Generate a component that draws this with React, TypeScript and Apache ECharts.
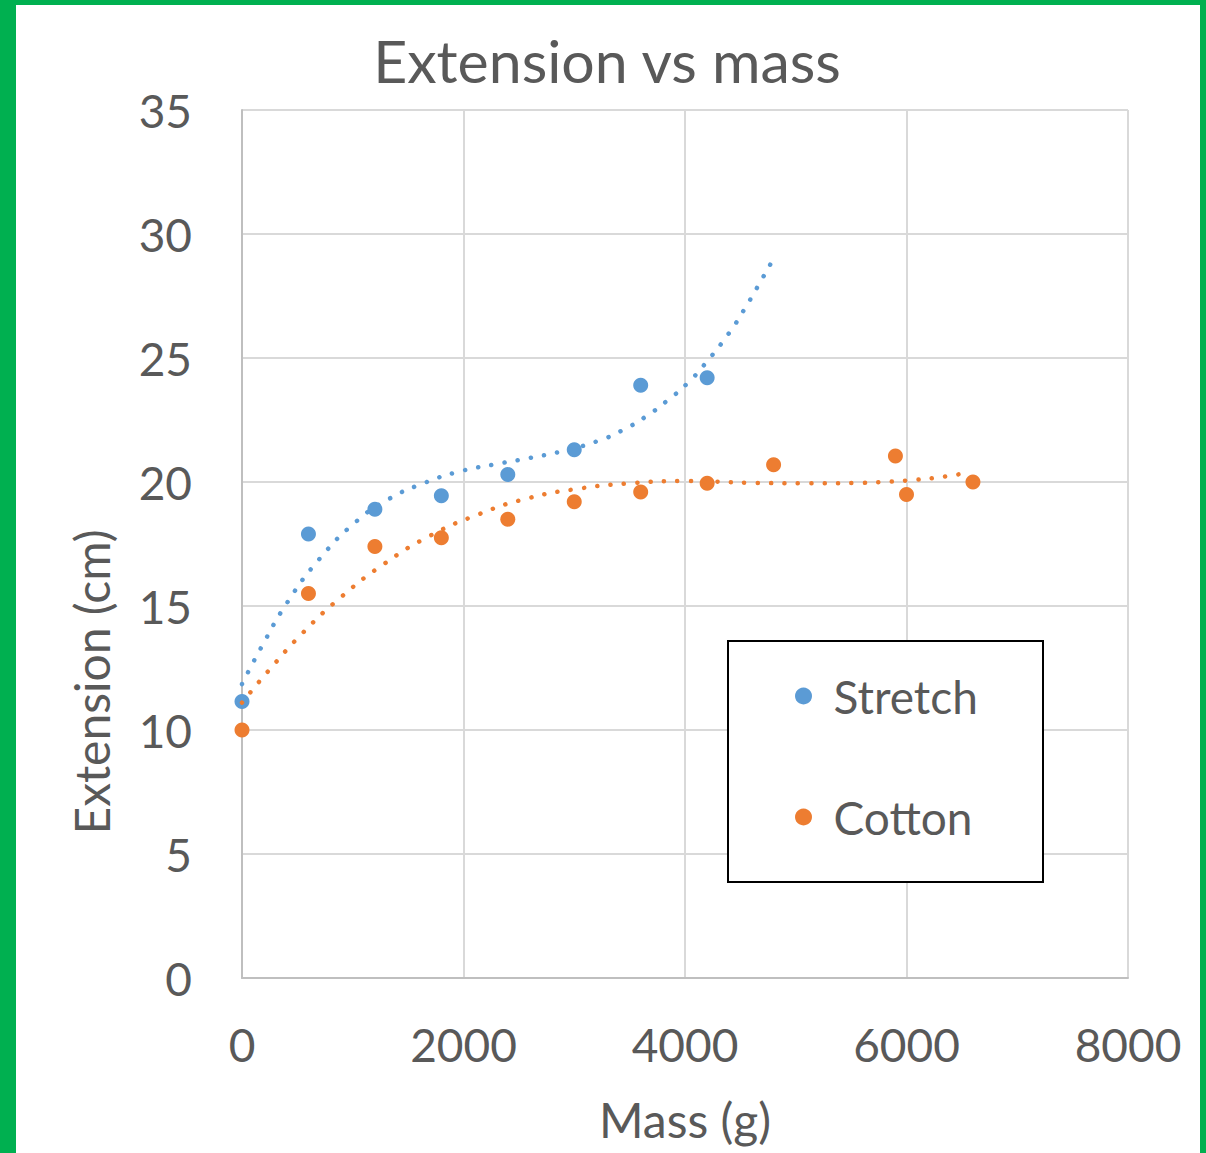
import React, { useEffect, useRef } from "react";
import * as echarts from "echarts";

const titleText = "Extension vs mass";
const xAxisTitle = "Mass (g)";
const yAxisTitle = "Extension (cm)";
const seriesNames = ["Stretch", "Cotton"];

const massStretch = [0, 600, 1200, 1800, 2400, 3000, 3600, 4200];
const extStretch = [11.15, 17.9, 18.9, 19.45, 20.3, 21.3, 23.9, 24.2];

const massCotton = [0, 600, 1200, 1800, 2400, 3000, 3600, 4200, 4800, 5900, 6000, 6600];
const extCotton = [10.0, 15.5, 17.4, 17.75, 18.5, 19.2, 19.6, 19.95, 20.7, 21.05, 19.5, 20.0];

// Trendlines (polynomial fits as drawn in the original)
const trendStretchX = [0, 170, 410, 700, 1030, 1320, 1640, 1970, 2320, 2550, 2890, 3230, 3450, 3650, 3840, 4020, 4180, 4400, 4530, 4650, 4780];
const trendStretchY = [11.85, 13.3, 15.15, 16.9, 18.4, 19.3, 19.95, 20.43, 20.74, 20.93, 21.24, 21.68, 22.12, 22.65, 23.28, 23.97, 24.76, 26.02, 26.92, 27.83, 28.85];

const trendCottonX = [0, 230, 550, 900, 1280, 1680, 2120, 2570, 3040, 3510, 3980, 4580, 5070, 5550, 5790, 6030, 6260, 6500];
const trendCottonY = [11.1, 12.34, 13.92, 15.38, 16.69, 17.79, 18.67, 19.33, 19.73, 19.95, 20.04, 19.97, 19.95, 19.96, 20.0, 20.07, 20.17, 20.33];

const xTicks = { min: 0, max: 8000, interval: 2000 };
const yTicks = { min: 0, max: 35, interval: 5 };

const BLUE = "#5B9BD5";
const ORANGE = "#ED7D31";
const TEXT = "#595959";
const FONT = "Lato";

function zip(xs: number[], ys: number[]) {
  return xs.map((x, i) => [x, ys[i]]);
}

export default function App() {
  const ref = useRef<HTMLDivElement>(null);
  useEffect(() => {
    if (!ref.current) return;
    const chart = echarts.init(ref.current, null, { renderer: "svg" });
    const dotted = (color: string) => ({
      color,
      width: 4.5,
      type: [0.1, 13.3],
      cap: "round",
    });
    chart.setOption({
      animation: false,
      backgroundColor: "#ffffff",
      title: {
        text: titleText,
        left: 602,
        textAlign: "center",
        top: 26,
        textStyle: { fontFamily: FONT, fontSize: 59, fontWeight: "normal", color: TEXT },
      },
      grid: { left: 242, right: 78, top: 110, bottom: 175 },
      legend: {
        data: seriesNames,
        orient: "vertical",
        left: 790,
        top: 668,
        itemWidth: 50,
        itemHeight: 17,
        itemGap: 75,
        icon: "circle",
        textStyle: { fontFamily: FONT, fontSize: 46, color: TEXT, lineHeight: 46 },
        z: 6,
      },
      xAxis: {
        type: "value",
        ...xTicks,
        name: xAxisTitle,
        nameLocation: "middle",
        nameGap: 117,
        nameTextStyle: { fontFamily: FONT, fontSize: 48, color: TEXT },
        axisLine: { show: true, lineStyle: { color: "#BFBFBF", width: 2 } },
        axisTick: { show: false },
        axisLabel: {
          fontFamily: FONT,
          fontSize: 46,
          color: TEXT,
          margin: 43,
          formatter: (v: number) => String(v),
        },
        splitLine: { show: true, lineStyle: { color: "#D9D9D9", width: 2 } },
      },
      yAxis: {
        type: "value",
        ...yTicks,
        axisLine: { show: true, lineStyle: { color: "#BFBFBF", width: 2 } },
        axisTick: { show: false },
        axisLabel: {
          fontFamily: FONT,
          fontSize: 46,
          color: TEXT,
          margin: 50,
          lineHeight: 46,
          padding: [0, 0, 8, 0],
        },
        splitLine: { show: true, lineStyle: { color: "#D9D9D9", width: 2 } },
      },
      graphic: [
        {
          type: "rect",
          z: 5,
          shape: { x: 728, y: 641, width: 315, height: 241 },
          style: { fill: "#ffffff", stroke: "#000000", lineWidth: 2 },
        },
        {
          type: "text",
          z: 5,
          x: 91,
          y: 682,
          rotation: Math.PI / 2,
          style: {
            text: yAxisTitle,
            fontFamily: FONT,
            fontSize: 48,
            fill: TEXT,
            textAlign: "center",
            textVerticalAlign: "middle",
          },
        },
        { type: "rect", z: 20, shape: { x: 0, y: 0, width: 16, height: 1153 }, style: { fill: "#00B050" } },
        { type: "rect", z: 20, shape: { x: 0, y: 0, width: 1206, height: 5 }, style: { fill: "#00B050" } },
        { type: "rect", z: 20, shape: { x: 1200, y: 0, width: 6, height: 1153 }, style: { fill: "#00B050" } },
      ],
      series: [
        {
          name: seriesNames[0],
          type: "scatter",
          symbol: "circle",
          symbolSize: 15,
          itemStyle: { color: BLUE, opacity: 1 },
          data: zip(massStretch, extStretch),
          z: 2,
        },
        {
          name: seriesNames[1],
          type: "scatter",
          symbol: "circle",
          symbolSize: 15,
          itemStyle: { color: ORANGE, opacity: 1 },
          data: zip(massCotton, extCotton),
          z: 2,
        },
        {
          name: "Stretch trend",
          type: "line",
          smooth: true,
          showSymbol: false,
          silent: true,
          lineStyle: dotted(BLUE),
          data: zip(trendStretchX, trendStretchY),
          z: 3,
        },
        {
          name: "Cotton trend",
          type: "line",
          smooth: true,
          showSymbol: false,
          silent: true,
          lineStyle: dotted(ORANGE),
          data: zip(trendCottonX, trendCottonY),
          z: 3,
        },
      ],
    });
    return () => chart.dispose();
  }, []);
  return (
    <div
      ref={ref}
      style={{ position: "absolute", left: 0, top: 0, width: 1206, height: 1153 }}
    />
  );
}
